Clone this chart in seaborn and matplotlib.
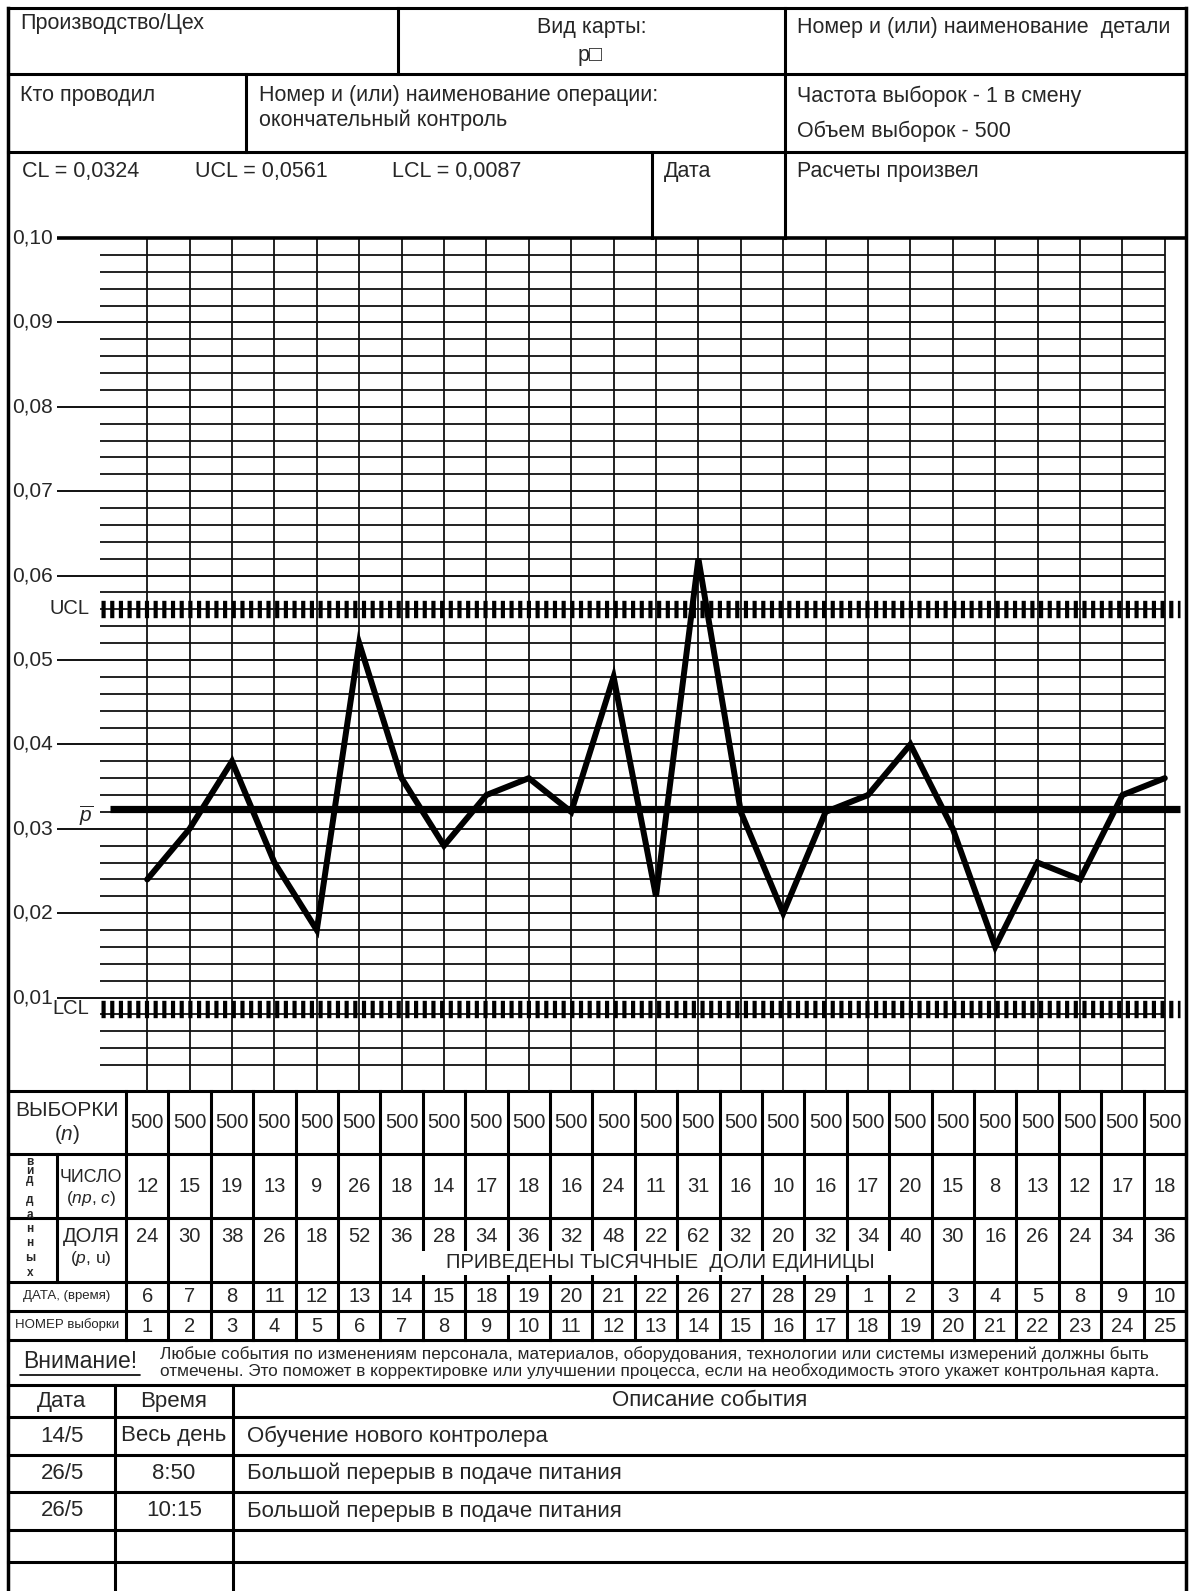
import numpy as np
import pandas as pd
import matplotlib.pyplot as plt
import seaborn as sns
from matplotlib.patches import Rectangle

# ---- data ----
sample_no = list(range(1, 26))
sample_size = [500] * 25
defects = [12, 15, 19, 13, 9, 26, 18, 14, 17, 18, 16, 24, 11, 31, 16, 10, 16, 17, 20, 15, 8, 13, 12, 17, 18]
share_permille = [24, 30, 38, 26, 18, 52, 36, 28, 34, 36, 32, 48, 22, 62, 32, 20, 32, 34, 40, 30, 16, 26, 24, 34, 36]
dates = [6, 7, 8, 11, 12, 13, 14, 15, 18, 19, 20, 21, 22, 26, 27, 28, 29, 1, 2, 3, 4, 5, 8, 9, 10]
cl, ucl, lcl = 0.0324, 0.0561, 0.0087
y_ticks = [0.10, 0.09, 0.08, 0.07, 0.06, 0.05, 0.04, 0.03, 0.02, 0.01]
tick_labels = ['0,10', '0,09', '0,08', '0,07', '0,06', '0,05', '0,04', '0,03', '0,02', '0,01']
ev_date = ['14/5', '26/5', '26/5']
ev_time = ['Весь день', '8:50', '10:15']
ev_text = ['Обучение нового контролера', 'Большой перерыв в подаче питания', 'Большой перерыв в подаче питания']

df = pd.DataFrame({'sample': sample_no, 'n': sample_size, 'np': defects})
df['p'] = df['np'] / df['n']

sns.set_style('white')
plt.rcParams['font.family'] = ['Liberation Sans', 'DejaVu Sans']
plt.rcParams['mathtext.fontset'] = 'custom'
plt.rcParams['mathtext.rm'] = 'Liberation Sans'
plt.rcParams['mathtext.it'] = 'Liberation Sans:italic'

W, H = 1192, 1591
fig = plt.figure(figsize=(W / 100, H / 100), dpi=100)
form = fig.add_axes([0, 0, 1, 1])
form.set_xlim(0, W)
form.set_ylim(H, 0)
form.axis('off')

L, R, T = 8, 1186, 8
col0 = 126
colw = (R - col0) / 25
LW = 2.2
HS = 15.5  # header text size
ES = 16    # events text size


def hl(y, x0=L, x1=R, lw=LW):
    form.plot([x0, x1], [y, y], color='black', lw=lw, solid_capstyle='projecting')


def vl(x, y0, y1, lw=LW):
    form.plot([x, x], [y0, y1], color='black', lw=lw, solid_capstyle='projecting')


def txt(x, y, s, size=HS, ha='left', **kw):
    form.text(x, y, s, fontsize=size, ha=ha, va='center', **kw)


# ---- header ----
hl(T)
vl(L, T, H, lw=2.5)
vl(R, T, H, lw=2.5)
hl(74)
hl(152)
vl(398, T, 74)
vl(785, T, 238)
vl(246, 74, 152)
vl(652, 152, 238)

txt(20, 23, 'Производство/Цех')
txt(592, 28, 'Вид карты:', ha='center')
txt(590, 55, 'p\u25a1', ha='center')
txt(797, 28, 'Номер и (или) наименование  детали')
txt(20, 96, 'Кто проводил')
txt(259, 95, 'Номер и (или) наименование операции:')
txt(259, 120, 'окончательный контроль')
txt(797, 96, 'Частота выборок - 1 в смену')
txt(797, 131, 'Объем выборок - 500')
txt(22, 172, 'CL = 0,0324')
txt(195, 172, 'UCL = 0,0561')
txt(392, 172, 'LCL = 0,0087')
txt(664, 172, 'Дата')
txt(797, 172, 'Расчеты произвел')

# ---- chart ----
top_px, bot_px = 238, 1091
px_per_unit_y = 8440
ymin = 0.10 - (bot_px - top_px) / px_per_unit_y
ax = fig.add_axes([L / W, 1 - bot_px / H, (R - L) / W, (bot_px - top_px) / H])
xmin = 0.5 - (col0 - L) / colw


def px(p):
    return 0.5 + (p - col0) / colw


grid_c = '#111111'
ax.vlines(sample_no, ymin, 0.10, color=grid_c, lw=1.3)
majors = y_ticks[1:]
minors = [v / 1000 for v in range(2, 100, 2) if v % 10 != 0]
ax.hlines(majors, px(57), 25, color=grid_c, lw=1.4)
ax.hlines(minors, px(100), 25, color=grid_c, lw=1.3)
ax.hlines(0.10, px(57), 25.5, color='black', lw=2.6, clip_on=False)
for v, lab in zip(y_ticks, tick_labels):
    ax.text(px(12), v, lab, fontsize=15, ha='left', va='center')

for lim, name in [(ucl, 'UCL'), (lcl, 'LCL')]:
    ax.plot([px(101), px(1180)], [lim, lim], color='black', lw=12.5,
            dashes=(0.24, 0.26), dash_capstyle='butt')
    ax.text(px(89), lim, name, fontsize=14.5, ha='right', va='center')

ax.hlines(cl, px(110), px(1180), color='black', lw=5.2)
ax.text(px(93), cl - 0.0008, r'$\overline{p}$', fontsize=15, ha='right', va='center')

sns.lineplot(data=df, x='sample', y='p', ax=ax, color='black', lw=4.3,
             solid_joinstyle='miter', zorder=5)
ax.set_xlim(xmin, 25.5)
ax.set_ylim(ymin, 0.10)
ax.axis('off')

# ---- data table ----
rows = [1091, 1154, 1218, 1282, 1311, 1340]
for y in rows:
    hl(y)
vl(col0, rows[0], rows[-1])
vl(57, rows[1], rows[3])
for k in range(1, 25):
    vl(col0 + k * colw, rows[0], rows[-1])

# white gap for the note inside the share row
form.add_patch(Rectangle((402, 1251), 503, 24, facecolor='white', edgecolor='none', zorder=3))
txt(660, 1263, 'ПРИВЕДЕНЫ ТЫСЯЧНЫЕ  ДОЛИ ЕДИНИЦЫ', size=14.5, ha='center', zorder=4)

txt(67, 1111, 'ВЫБОРКИ', size=15, ha='center')
txt(67, 1134, r'($n$)', size=15, ha='center')
txt(91, 1178, 'ЧИСЛО', size=12.8, ha='center')
txt(91, 1199, r'($np$, $c$)', size=12.5, ha='center')
txt(91, 1236, 'ДОЛЯ', size=14.5, ha='center')
txt(91, 1258, r'($p$, u)', size=12.5, ha='center')
for i, ch in enumerate('вид'):
    txt(30, 1162 + i * 9, ch, size=8.5, ha='center', fontweight='bold')
for i, ch in enumerate('данных'):
    txt(30, 1200 + i * 14.5, ch, size=8.5, ha='center', fontweight='bold')
txt(67, 1296, 'ДАТА, (время)', size=9.5, ha='center')
txt(67, 1325, 'НОМЕР выборки', size=9.5, ha='center')

for k in range(25):
    cx = col0 + (k + 0.5) * colw
    txt(cx, 1123, str(sample_size[k]), size=14.5, ha='center')
    txt(cx, 1187, str(defects[k]), size=14.5, ha='center')
    txt(cx, 1236, str(share_permille[k]), size=14.5, ha='center')
    txt(cx, 1297, str(dates[k]), size=14.5, ha='center')
    txt(cx, 1326, str(sample_no[k]), size=14.5, ha='center')

# ---- notice and events ----
ev_rows = [1340, 1385, 1417, 1455, 1492, 1530, 1562]
for y in ev_rows[1:]:
    hl(y)
vl(115, ev_rows[1], H)
vl(233, ev_rows[1], H)

txt(80, 1361, 'Внимание!', size=16.5, ha='center')
form.plot([20, 140], [1375, 1375], color='black', lw=1.2)
txt(160, 1354, 'Любые события по изменениям персонала, материалов, оборудования, технологии или системы измерений должны быть', size=12.4)
txt(160, 1371, 'отмечены. Это поможет в корректировке или улучшении процесса, если на необходимость этого укажет контрольная карта.', size=12.4)

txt(62, 1401, 'Дата', size=ES, ha='center')
txt(174, 1401, 'Время', size=ES, ha='center')
txt(710, 1401, 'Описание события', size=ES, ha='center')
for i in range(len(ev_date)):
    yc = (ev_rows[i + 2] + ev_rows[i + 3]) / 2
    txt(62, yc, ev_date[i], size=ES, ha='center')
    txt(174, yc, ev_time[i], size=ES, ha='center')
    txt(247, yc, ev_text[i], size=ES)

fig.savefig('out.png', dpi=100)
